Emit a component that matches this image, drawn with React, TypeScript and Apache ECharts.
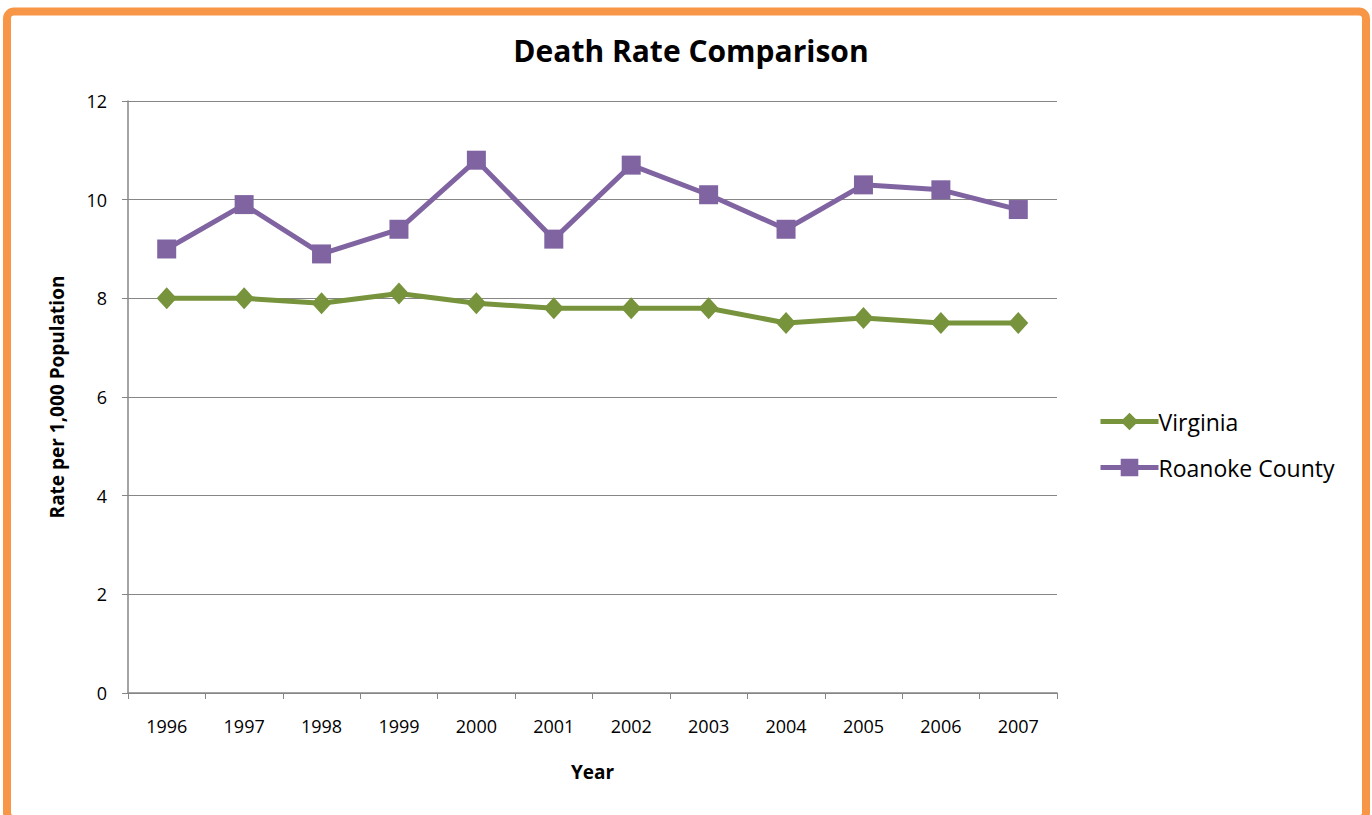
import React, { useEffect, useRef } from "react";
import * as echarts from "echarts";

const years = ["1996", "1997", "1998", "1999", "2000", "2001", "2002", "2003", "2004", "2005", "2006", "2007"];
const virginia = [8.0, 8.0, 7.9, 8.1, 7.9, 7.8, 7.8, 7.8, 7.5, 7.6, 7.5, 7.5];
const roanoke = [9.0, 9.9, 8.9, 9.4, 10.8, 9.2, 10.7, 10.1, 9.4, 10.3, 10.2, 9.8];

const FONT = "'Open Sans', 'Lato', sans-serif";

export default function App() {
  const ref = useRef<HTMLDivElement>(null);
  useEffect(() => {
    document.body.style.margin = "0";
    const chart = echarts.init(ref.current!, null, { renderer: "svg" });
    chart.setOption({
      animation: false,
      backgroundColor: "#ffffff",
      title: {
        text: "Death Rate Comparison",
        left: 686,
        textAlign: "center",
        top: 30,
        textStyle: { fontFamily: FONT, fontSize: 30, fontWeight: "bold", color: "#000" },
      },
      graphic: [
        {
          type: "rect",
          shape: { x: 7, y: 11.5, width: 1359, height: 808, r: 7 },
          style: { fill: "none", stroke: "#F79646", lineWidth: 8 },
          z: 100,
        },
      ],
      legend: {
        orient: "vertical",
        left: 1093,
        top: 405,
        itemGap: 23,
        itemWidth: 58,
        itemHeight: 22,
        lineStyle: { width: 5 },
        textStyle: { fontFamily: FONT, fontSize: 23, color: "#000", padding: [0, 0, 0, -5] },
        data: ["Virginia", "Roanoke County"],
      },
      grid: { left: 128, right: 315, top: 101, bottom: 122, containLabel: false },
      xAxis: {
        type: "category",
        data: years,
        boundaryGap: true,
        name: "Year",
        nameLocation: "middle",
        nameGap: 69,
        nameTextStyle: { fontFamily: FONT, fontSize: 19, fontWeight: "bold", color: "#000" },
        axisLine: { lineStyle: { color: "#868686", width: 1.5 } },
        axisTick: { show: true, alignWithLabel: false, length: 6, lineStyle: { color: "#868686" } },
        axisLabel: { fontFamily: FONT, fontSize: 18, color: "#000", margin: 24 },
      },
      yAxis: {
        type: "value",
        min: 0,
        max: 12,
        interval: 2,
        name: "Rate per 1,000 Population",
        nameLocation: "middle",
        nameGap: 62,
        nameTextStyle: { fontFamily: FONT, fontSize: 19, fontWeight: "bold", color: "#000" },
        axisLine: { show: true, lineStyle: { color: "#868686", width: 1.5 } },
        axisTick: { show: true, inside: false, length: 6, lineStyle: { color: "#868686" } },
        axisLabel: { fontFamily: FONT, fontSize: 18, color: "#000", margin: 21 },
        splitLine: { lineStyle: { color: "#868686", width: 1.2 } },
      },
      series: [
        {
          name: "Virginia",
          type: "line",
          data: virginia,
          symbol: "diamond",
          symbolSize: [20, 22],
          itemStyle: { color: "#77933C" },
          lineStyle: { color: "#77933C", width: 5 },
        },
        {
          name: "Roanoke County",
          type: "line",
          data: roanoke,
          symbol: "rect",
          symbolSize: 19,
          itemStyle: { color: "#8064A2" },
          lineStyle: { color: "#8064A2", width: 5 },
        },
      ],
    });
    return () => chart.dispose();
  }, []);
  return (
    <div
      ref={ref}
      style={{ position: "absolute", left: 0, top: 0, width: 1372, height: 815 }}
    />
  );
}
